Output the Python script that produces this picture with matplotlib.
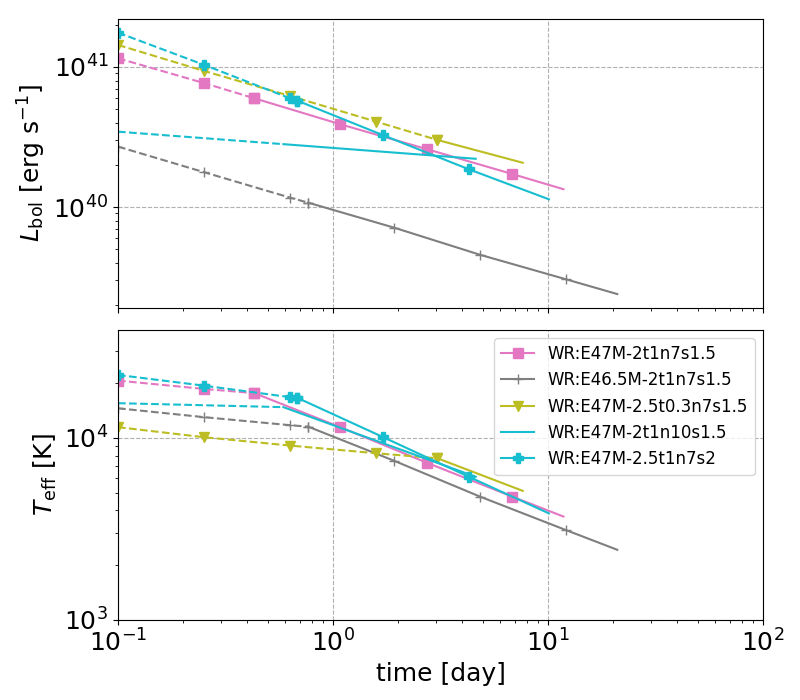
import numpy as np
import matplotlib
matplotlib.use("Agg")
import matplotlib.pyplot as plt

# model names (legend order)
names = ["WR:E47M-2t1n7s1.5", "WR:E46.5M-2t1n7s1.5", "WR:E47M-2.5t0.3n7s1.5",
         "WR:E47M-2t1n10s1.5", "WR:E47M-2.5t1n7s2"]

# time [day], L_bol [erg/s], T_eff [K]; first `split` points are dashed
t_pink = [0.1, 0.252, 0.431, 1.08, 2.73, 6.82, 11.8]
L_pink = [1.153e41, 7.66e40, 5.97e40, 3.90e40, 2.59e40, 1.72e40, 1.34e40]
T_pink = [20650, 18580, 17620, 11460, 7310, 4760, 3700]

t_gray = [0.1, 0.252, 0.631, 0.767, 1.93, 4.83, 12.1, 21.0]
L_gray = [2.70e40, 1.77e40, 1.167e40, 1.074e40, 7.11e39, 4.56e39, 3.05e39, 2.39e39]
T_gray = [14550, 13000, 11750, 11530, 7480, 4760, 3120, 2430]

t_olive = [0.1, 0.252, 0.631, 1.585, 3.06, 7.63]
L_olive = [1.435e41, 9.35e40, 6.21e40, 4.07e40, 3.01e40, 2.07e40]
T_olive = [11460, 10090, 9080, 8240, 7730, 5120]

t_cyan = [0.1, 0.588, 4.61]
L_cyan = [3.45e40, 2.81e40, 2.21e40]
T_cyan = [15520, 14760, 6120]

t_cyanP = [0.1, 0.252, 0.631, 0.683, 1.714, 4.28, 10.1]
L_cyanP = [1.758e41, 1.033e41, 5.97e40, 5.74e40, 3.25e40, 1.86e40, 1.135e40]
T_cyanP = [22180, 19360, 16750, 16600, 10090, 6120, 3850]

models = [
    (t_pink, L_pink, T_pink, 2, "tab:pink", "s", 7),
    (t_gray, L_gray, T_gray, 3, "tab:gray", "+", 7),
    (t_olive, L_olive, T_olive, 4, "tab:olive", "v", 7),
    (t_cyan, L_cyan, T_cyan, 1, "tab:cyan", "", 7),
    (t_cyanP, L_cyanP, T_cyanP, 3, "tab:cyan", "P", 7),
]

fig = plt.figure(figsize=(8, 7), dpi=100)
ax1 = fig.add_axes([0.1475, 0.56, 0.8063, 0.413])
ax2 = fig.add_axes([0.1475, 0.1143, 0.8063, 0.4143])

for name, (t, L, T, s, c, m, ms) in zip(names, models):
    t = np.array(t)
    for ax, y in ((ax1, np.array(L)), (ax2, np.array(T))):
        mk = list(range(len(t) - 1))
        ax.plot(t[:s + 1], y[:s + 1], ls="--", color=c, marker=m, ms=ms,
                markevery=[i for i in mk if i <= s], lw=1.5)
        ax.plot(t[s:], y[s:], ls="-", color=c, marker=m, ms=ms,
                markevery=[i - s for i in mk if i >= s], lw=1.5, label=name)

for ax in (ax1, ax2):
    ax.set_xscale("log")
    ax.set_yscale("log")
    ax.set_xlim(0.1, 100)
    ax.grid(True, which="major", ls="--", color="#b0b0b0", lw=0.8)
    ax.tick_params(labelsize=18)

ax1.set_ylim(10**39.279, 10**41.343)
ax2.set_ylim(1e3, 10**4.593)
ax1.tick_params(labelbottom=False)
ax1.set_ylabel(r"$L_{\rm bol}$ [erg s$^{-1}$]", fontsize=18)
ax2.set_ylabel(r"$T_{\rm eff}$ [K]", fontsize=18)
ax2.set_xlabel("time [day]", fontsize=18)
ax2.legend(loc="upper right", fontsize=12)

fig.savefig("out.png", dpi=100)
